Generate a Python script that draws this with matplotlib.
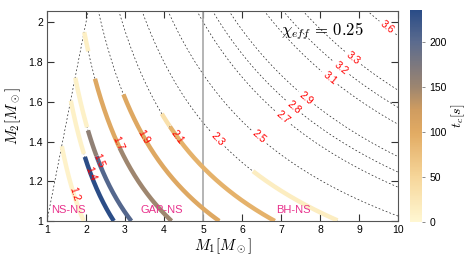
import numpy as np
import matplotlib
matplotlib.use("Agg")
import matplotlib.pyplot as plt
from matplotlib.colors import LinearSegmentedColormap, Normalize
from matplotlib.cm import ScalarMappable

plt.rcParams['font.family'] = ['Liberation Sans', 'DejaVu Sans']
plt.rcParams['mathtext.fontset'] = 'cm'

# niveis de massa chirp (linhas tracejadas) e posicao dos rotulos
niveis = [1.2, 1.4, 1.5, 1.7, 1.9, 2.1, 2.3, 2.5, 2.7, 2.8, 2.9, 3.1, 3.2, 3.3, 3.6]
pos_rotulos = [(1.63, 1.13), (2.15, 1.24), (2.27, 1.30), (2.70, 1.38), (3.43, 1.42),
               (4.24, 1.41), (5.31, 1.40), (6.42, 1.42), (6.97, 1.50), (7.23, 1.55),
               (7.57, 1.60), (8.21, 1.71), (8.51, 1.76), (8.81, 1.81), (9.75, 1.98)]

# trechos grossos: massa chirp, M1 inicial, M1 final, t_c [s]
trecho_mc = [1.2, 1.4, 1.4, 1.5, 1.5, 1.5, 1.7, 1.7, 1.7, 1.9, 2.1, 2.1, 2.3]
trecho_m1_ini = [1.30, 1.55, 1.97, 1.65, 2.05, 2.27, 1.90, 2.23, 2.86, 2.96, 3.94, 4.15, 6.28]
trecho_m1_fim = [1.95, 1.95, 2.72, 2.03, 2.27, 3.17, 2.06, 2.86, 4.22, 5.45, 4.15, 6.85, 8.45]
trecho_tc = [8, 10, 235, 10, 160, 205, 12, 105, 150, 105, 35, 92, 15]

# regioes
nomes_regioes = ['NS-NS', 'GAP-NS', 'BH-NS']
x_regioes = [1.55, 3.94, 7.33]

tc_max = 236
cores_cmap = [(0.0, '#fff7d2'), (0.21, '#f6d69a'), (0.42, '#e2ab63'), (0.53, '#cf9c60'),
              (0.64, '#9c8570'), (0.85, '#5b6b8e'), (1.0, '#2a4c87')]
cmap = LinearSegmentedColormap.from_list('tc', cores_cmap)
norm = Normalize(0, tc_max)

fig = plt.figure(figsize=(4.69, 2.64), dpi=100)
ax = fig.add_axes([0.1002, 0.1629, 0.7484, 0.7954])
cax = fig.add_axes([0.874, 0.159, 0.0256, 0.803])

ax.set_xlim(1, 10)
ax.set_ylim(1, 2.057)

m1 = np.linspace(1, 10, 900)
m2 = np.linspace(1, 2.06, 500)
M1, M2 = np.meshgrid(m1, m2)
Mc = (M1 * M2) ** 0.6 / (M1 + M2) ** 0.2
Mc = np.ma.masked_where(M2 > M1 + 1e-9, Mc)

cs = ax.contour(M1, M2, Mc, levels=niveis, colors='#222222', linewidths=0.5,
                linestyles=[(0, (2.5, 3))])

# trechos grossos coloridos por t_c, sobre os contornos
for mc, a, b, tc in zip(trecho_mc, trecho_m1_ini, trecho_m1_fim, trecho_tc):
    caminho = cs.get_paths()[niveis.index(mc)]
    v = caminho.vertices
    if caminho.codes is not None:
        cortes = np.where(caminho.codes == 1)[0][1:]
        pedacos = np.split(v, cortes)
    else:
        pedacos = [v]
    for pedaco in pedacos:
        x, y = pedaco[:, 0], pedaco[:, 1]
        sel = (x >= a) & (x <= b) & (y <= x)
        if sel.sum() > 1:
            ax.plot(x[sel], y[sel], color=cmap(norm(tc)), lw=3.2,
                    solid_capstyle='butt', zorder=3)

ax.clabel(cs, niveis, manual=pos_rotulos, inline=True, inline_spacing=3, fmt='%.1f',
          fontsize=7.5, colors='red', zorder=6)

ax.plot([1, 2.06], [1, 2.06], color='#222222', lw=0.5, ls=(0, (2.5, 3)))
ax.axvline(5, color='#a8a8a8', lw=1.2, zorder=2.5)

for nome, xr in zip(nomes_regioes, x_regioes):
    ax.text(xr, 1.055, nome, color='#e8318c', fontsize=8, ha='center', va='center', zorder=7)

ax.text(7.0, 1.955, r'$\chi_{eff}\,=\,0.25$', fontsize=12, ha='left', va='center')

ax.set_xticks(range(1, 11))
ax.set_yticks([1, 1.2, 1.4, 1.6, 1.8, 2])
ax.set_yticklabels(['1', '1.2', '1.4', '1.6', '1.8', '2'])
ax.tick_params(direction='in', top=True, right=True, length=5, width=0.8,
               color='#333333', labelsize=7.5, pad=3)
for s in ax.spines.values():
    s.set_color('#555555')
    s.set_linewidth(0.8)
ax.set_xlabel(r'$M_1[M_\odot]$', fontsize=11, labelpad=1)
ax.set_ylabel(r'$M_2[M_\odot]$', fontsize=11, labelpad=4)

sm = ScalarMappable(norm=norm, cmap=cmap)
cb = fig.colorbar(sm, cax=cax)
cb.outline.set_visible(False)
cb.set_ticks([0, 50, 100, 150, 200])
cb.ax.tick_params(length=2, width=0.6, labelsize=7.5, color='#777777')
cb.set_label(r'$t_c[s]$', fontsize=10, labelpad=2)

fig.savefig('out.png', dpi=100)
